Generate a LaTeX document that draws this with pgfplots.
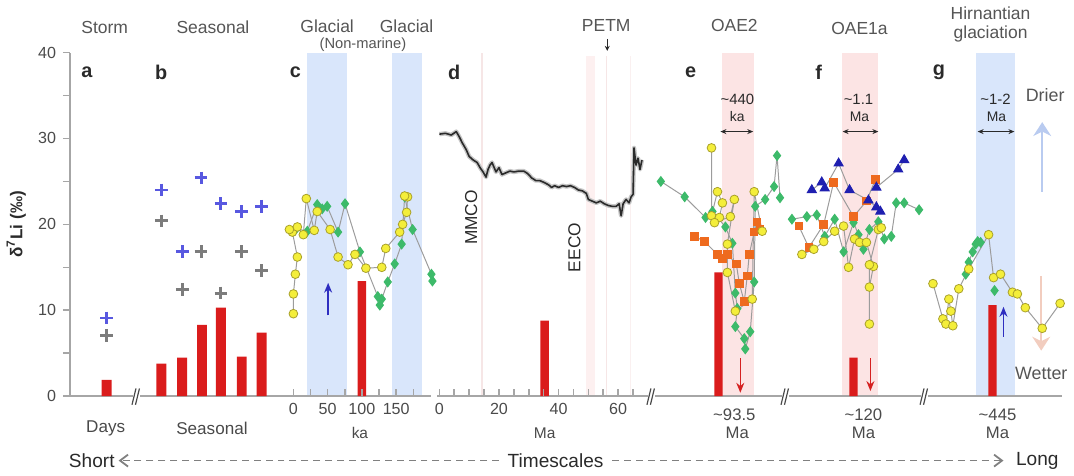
\documentclass[border=0pt]{standalone}
\usepackage{fontspec}
\setmainfont{Liberation Sans}
\usepackage{pgfplots}
\pgfplotsset{compat=1.18}
\usetikzlibrary{arrows.meta}
\definecolor{axgray}{HTML}{A6A6A6}
\definecolor{tickgray}{HTML}{4A4A4A}
\definecolor{ttlgray}{HTML}{555555}
\definecolor{dark}{HTML}{2A2A2A}
\definecolor{barred}{HTML}{DA1C1C}
\definecolor{crossblue}{HTML}{5858E0}
\definecolor{crossgray}{HTML}{7C7C7C}
\definecolor{bandblue}{HTML}{D9E6FB}
\definecolor{bandpink}{HTML}{FCE4E4}
\definecolor{pinkline}{HTML}{F6E6E6}
\definecolor{ylw}{HTML}{F4EE3A}
\definecolor{ylwedge}{HTML}{A9A12A}
\definecolor{grn}{HTML}{3DBA6A}
\definecolor{org}{HTML}{EE6A1E}
\definecolor{tri}{HTML}{1F1FB0}
\definecolor{lngray}{HTML}{9C9C9C}
\definecolor{drier}{HTML}{B9CBF0}
\definecolor{wetter}{HTML}{F2CDBF}
\definecolor{arrblue}{HTML}{2E2EC0}
\definecolor{arrred}{HTML}{D52020}
\newcommand{\fz}[1]{\fontsize{#1}{#1}\selectfont}
\pgfplotsset{
  ylwp/.style={color=lngray, line width=0.5pt, mark=*, mark size=2.2pt, mark options={fill=ylw, draw=ylwedge, line width=0.4pt, solid}},
  grnp/.style={color=lngray, line width=0.5pt, mark=diamond*, mark size=2.4pt, mark options={fill=grn, draw=grn}},
  orgp/.style={color=lngray, line width=0.5pt, mark=square*, mark size=1.9pt, mark options={fill=org, draw=org}},
  trip/.style={color=lngray, line width=0.5pt, mark=triangle*, mark size=2.6pt, mark options={fill=tri, draw=tri}},
}
\tikzset{brk/.style={tickgray, line width=0.6pt}}
\begin{document}
\begin{tikzpicture}
\begin{axis}[
  scale only axis, width=500pt, height=173pt,
  xmin=68, xmax=1068, ymin=0, ymax=40,
  axis x line=bottom, axis y line=left,
  axis on top,
  x axis line style={draw=none},
  y axis line style={draw=axgray, line width=0.9pt, -},
  ytick={0,10,20,30,40}, minor ytick={5,15,25,35},
  ytick align=outside, xtick align=inside,
  major tick length=3.5pt, minor tick length=3.5pt,
  tick style={draw=axgray, line width=0.8pt},
  xtick={293,327.5,362,396.5,440,500,560,620},
  xticklabels={0,50,100,150,0,20,40,60},
  minor xtick={310.25,344.75,379.25,413.75,455,470,485,515,530,545,575,590,605,635},
  tick label style={font=\fz{8.1}, text=tickgray},
  /pgf/number format/assume math mode=true,
  clip=false,
]
% bounding box
\path (axis cs:0,-9.133) rectangle (axis cs:1074,46.01);

% shaded bands
\addplot[fill=bandblue, draw=none] coordinates {(307,0) (307,39.9) (347,39.9) (347,0)} --cycle;
\addplot[fill=bandblue, draw=none] coordinates {(392,0) (392,39.9) (422,39.9) (422,0)} --cycle;
\addplot[fill=bandpink, draw=none] coordinates {(725,0) (725,39.9) (757,39.9) (757,0)} --cycle;
\addplot[fill=bandpink, draw=none] coordinates {(845,0) (845,39.9) (882,39.9) (882,0)} --cycle;
\addplot[fill=bandblue, draw=none] coordinates {(980,0) (980,39.9) (1020,39.9) (1020,0)} --cycle;
\addplot[fill=bandpink!55, draw=none] coordinates {(588,0) (588,39.6) (597,39.6) (597,0)} --cycle;
\addplot[pinkline, line width=0.6pt] coordinates {(483,0) (483,39.9)};
\addplot[pinkline, line width=0.6pt] coordinates {(608,0) (608,39.6)};
\addplot[pinkline!60, line width=0.5pt] coordinates {(632,0) (632,39.6)};

% baseline with breaks
\draw[axgray, line width=0.9pt] (axis cs:68,0) -- (axis cs:132,0);
\draw[axgray, line width=0.9pt] (axis cs:139,0) -- (axis cs:432,0);
\draw[axgray, line width=0.9pt] (axis cs:438,0) -- (axis cs:650,0);
\draw[axgray, line width=0.9pt] (axis cs:657,0) -- (axis cs:785,0);
\draw[axgray, line width=0.9pt] (axis cs:792,0) -- (axis cs:925,0);
\draw[axgray, line width=0.9pt] (axis cs:932,0) -- (axis cs:1067,0);
\draw[brk] (axis cs:130.5,-1.0) -- (axis cs:134.5,0.9);
\draw[brk] (axis cs:134,-1.0) -- (axis cs:138,0.9);
\draw[brk] (axis cs:649,-1.0) -- (axis cs:653,0.9);
\draw[brk] (axis cs:652.5,-1.0) -- (axis cs:656.5,0.9);
\draw[brk] (axis cs:784,-1.0) -- (axis cs:788,0.9);
\draw[brk] (axis cs:787.5,-1.0) -- (axis cs:791.5,0.9);
\draw[brk] (axis cs:924,-1.0) -- (axis cs:928,0.9);
\draw[brk] (axis cs:927.5,-1.0) -- (axis cs:931.5,0.9);

% red bars
\addplot[ybar, bar width=5pt, bar shift=0pt, fill=barred, draw=none] coordinates {
 (105,1.9) (160,3.8) (181,4.5) (201,8.3) (220,10.3) (241,4.6) (261,7.4)};
\addplot[ybar, bar width=4.2pt, bar shift=0pt, fill=barred, draw=none] coordinates {
 (362,13.4) (546,8.8) (721,14.4) (857,4.5) (997,10.6)};

% crosses a, b
\addplot[only marks, mark=+, mark size=3.2pt, mark options={line width=1.5pt}, color=crossblue] coordinates {
 (105,9.1) (160,24.0) (181,16.8) (200,25.4) (220,22.4) (241,21.5) (261,22.1)};
\addplot[only marks, mark=+, mark size=3.2pt, mark options={line width=1.5pt}, color=crossgray] coordinates {
 (105,7.1) (160,20.4) (181,12.4) (200,16.8) (220,12.0) (241,16.8) (261,14.6)};

% panel c
\addplot[grnp] coordinates {
 (296,19.5) (307,19.2) (317,22.3) (322,21.8) (327,22.1) (338,19.1) (345,22.4) (360,16.8)
 (378,11.6) (380,10.6) (382,11.3) (388,13.3) (395,15.4) (402,17.7) (405,23.2) (413,19.4) (432,14.2) (433,13.4)};
\addplot[ylwp] coordinates {
 (293,9.6) (293,11.9) (295,14.2) (297,16.2) (292,19.1) (289,19.4) (297,19.7) (303,18.8) (306,23.0) (314,19.3)
 (317,21.5) (330,19.4) (338,16.2) (348,15.3) (355,16.5) (366,14.9) (382,15.0) (386,17.2)
 (400,19.1) (403,20.0) (407,21.4) (408,23.2) (405,23.3)};
\addplot[-{Stealth[length=5pt,width=4pt]}, arrblue, line width=0.7pt] coordinates {(328,9.4) (328,13.2)};

% panel d
\addplot[color=gray!45, line width=2.2pt, line join=round] coordinates {
 (440,30.5) (446,30.6) (452,30.4) (457,30.8) (460,30.2) (463,29.5) (467,28.7) (470,27.9) (474,27.5)
 (478,27.2) (481,26.6) (484,26.1) (487,25.5) (489,26.4) (491,26.9) (493,27.2) (497,26.1) (500,26.6)
 (503,25.8) (507,26.0) (511,26.2) (515,26.1) (520,26.2) (525,26.2) (529,25.9) (533,25.4) (537,25.1)
 (541,25.1) (545,24.9) (550,24.6) (553,24.3) (556,24.5) (560,24.3) (564,24.5) (568,24.4) (572,24.5)
 (576,24.3) (580,24.0) (584,23.9) (588,23.6) (590,22.9) (594,22.7) (598,22.5) (602,22.7) (606,22.4)
 (610,22.2) (614,22.1) (618,22.1) (621,22.4) (623,21.0) (625,22.4) (628,22.9) (631,22.5) (633,23.2)
 (635,23.5) (636,28.9) (638,26.9) (640,27.7) (642,26.4) (644,27.5)};
\addplot[color=dark, line width=0.8pt, line join=round] coordinates {
 (440,30.5) (446,30.6) (452,30.4) (457,30.8) (460,30.2) (463,29.5) (467,28.7) (470,27.9) (474,27.5)
 (478,27.2) (481,26.6) (484,26.1) (487,25.5) (489,26.4) (491,26.9) (493,27.2) (497,26.1) (500,26.6)
 (503,25.8) (507,26.0) (511,26.2) (515,26.1) (520,26.2) (525,26.2) (529,25.9) (533,25.4) (537,25.1)
 (541,25.1) (545,24.9) (550,24.6) (553,24.3) (556,24.5) (560,24.3) (564,24.5) (568,24.4) (572,24.5)
 (576,24.3) (580,24.0) (584,23.9) (588,23.6) (590,22.9) (594,22.7) (598,22.5) (602,22.7) (606,22.4)
 (610,22.2) (614,22.1) (618,22.1) (621,22.4) (623,21.0) (625,22.4) (628,22.9) (631,22.5) (633,23.2)
 (635,23.5) (636,28.9) (638,26.9) (640,27.7) (642,26.4) (644,27.5)};

% panel e
\addplot[grnp] coordinates {
 (663,25.0) (687,23.2) (708,20.8) (715,21.5) (728,19.7) (735,17.8) (738,12.0) (740,10.2) (738,8.1)
 (747,6.7) (748,5.5) (753,7.5) (757,13.3) (758,22.1) (768,22.9) (777,24.4) (780,28.0) (783,23.1)};
\addplot[orgp] coordinates {
 (697,18.6) (707,18.0) (720,16.5) (725,16.0) (730,16.5) (739,15.4) (742,13.1) (747,11.0) (750,14.0)
 (752,16.5) (757,19.1) (760,20.3) (763,19.4)};
\addplot[ylwp] coordinates {
 (714,28.9) (714,21.0) (720,23.8) (725,22.5) (722,20.8) (717,20.2) (733,20.9) (737,22.9) (730,17.7)
 (730,14.4) (738,9.9) (755,11.3) (757,23.8) (765,19.2)};
\addplot[-{Stealth[length=5pt,width=4pt]}, arrred, line width=0.7pt] coordinates {(743,4.4) (743,0.4)};

% panel f
\addplot[grnp] coordinates {
 (795,20.6) (810,20.9) (820,21.1) (828,18.6) (838,20.6) (847,16.8) (857,20.2) (862,18.8) (867,17.1)
 (873,19.4) (882,20.3) (888,18.3) (895,18.6) (900,22.5) (908,22.5) (923,21.7)};
\addplot[orgp] coordinates {
 (802,19.8) (812,17.3) (827,20.0) (837,24.9) (857,20.9) (870,22.7) (879,25.2)};
\addplot[trip] coordinates {
 (815,24.0) (825,24.9) (828,24.2) (842,27.1) (853,24.0) (872,22.8) (880,22.0) (884,21.5)};
\addplot[trip] coordinates {(880,24.3) (902,26.4) (908,27.5)};
\addplot[ylwp] coordinates {
 (805,16.5) (817,17.1) (827,18.0) (838,19.2) (847,19.8) (852,15.0) (858,18.3) (863,17.9) (870,17.9)
 (877,15.1) (873,12.7) (873,8.4) (873,15.3) (882,19.4) (885,19.6)};
\addplot[-{Stealth[length=5pt,width=4pt]}, arrred, line width=0.7pt] coordinates {(874,4.4) (874,0.6)};

% panel g
\addplot[grnp] coordinates {
 (970,14.2) (973,15.6) (977,16.8) (980,17.7) (982,18.0) (985,17.9)};
\addplot[grnp] coordinates {(999,12.3)};
\addplot[ylwp] coordinates {
 (937,13.1) (947,9.0) (950,8.4) (953,11.3) (955,9.9) (957,8.2) (963,12.5) (973,14.8) (993,18.8)
 (998,13.8) (1005,14.2) (1017,12.1) (1022,11.9) (1030,10.3) (1047,7.9) (1065,10.8)};
\addplot[-{Stealth[length=5pt,width=4pt]}, arrblue, line width=0.7pt] coordinates {(1008,6.9) (1008,10.4)};

% drier / wetter arrows
\addplot[-{Stealth[length=7pt,width=9pt]}, drier, line width=1pt] coordinates {(1047,23.8) (1047,31.9)};
\addplot[-{Stealth[length=7pt,width=9pt]}, wetter, line width=1pt] coordinates {(1046,14.0) (1046,5.3)};

% duration arrows
\draw[{Stealth[length=3pt,width=2.5pt]}-{Stealth[length=3pt,width=2.5pt]}, dark, line width=0.5pt] (axis cs:723,30.8) -- (axis cs:756,30.8);
\draw[{Stealth[length=3pt,width=2.5pt]}-{Stealth[length=3pt,width=2.5pt]}, dark, line width=0.5pt] (axis cs:846,30.8) -- (axis cs:882,30.8);
\draw[{Stealth[length=3pt,width=2.5pt]}-{Stealth[length=3pt,width=2.5pt]}, dark, line width=0.5pt] (axis cs:982,30.8) -- (axis cs:1019,30.8);
\node[font=\fz{7.5}, text=dark] at (axis cs:740,34.5) {\textasciitilde440};
\node[font=\fz{7}, text=dark] at (axis cs:740,32.5) {ka};
\node[font=\fz{7.5}, text=dark] at (axis cs:862,34.5) {\textasciitilde1.1};
\node[font=\fz{7}, text=dark] at (axis cs:863,32.5) {Ma};
\node[font=\fz{7.5}, text=dark] at (axis cs:1000,34.5) {\textasciitilde1-2};
\node[font=\fz{7}, text=dark] at (axis cs:1001,32.5) {Ma};

% PETM arrow
\draw[-{Stealth[length=2.5pt,width=2.5pt]}, dark, line width=0.5pt] (axis cs:609,41.6) -- (axis cs:609,40.2);

% panel letters
\node[font=\fz{10}\bfseries, text=dark] at (axis cs:85,37.7) {a};
\node[font=\fz{10}\bfseries, text=dark] at (axis cs:160,37.7) {b};
\node[font=\fz{10}\bfseries, text=dark] at (axis cs:295,37.7) {c};
\node[font=\fz{10}\bfseries, text=dark] at (axis cs:455,37.7) {d};
\node[font=\fz{10}\bfseries, text=dark] at (axis cs:693,37.7) {e};
\node[font=\fz{10}\bfseries, text=dark] at (axis cs:822,37.7) {f};
\node[font=\fz{10}\bfseries, text=dark] at (axis cs:943,37.7) {g};

% titles
\node[font=\fz{8.8}, text=ttlgray] at (axis cs:103,42.9) {Storm};
\node[font=\fz{8.8}, text=ttlgray] at (axis cs:212,42.9) {Seasonal};
\node[font=\fz{8.8}, text=ttlgray] at (axis cs:327,43.1) {Glacial};
\node[font=\fz{8.8}, text=ttlgray] at (axis cs:407,43.1) {Glacial};
\node[font=\fz{7.4}, text=ttlgray] at (axis cs:363,40.9) {(Non-marine)};
\node[font=\fz{8.8}, text=ttlgray] at (axis cs:608,43.1) {PETM};
\node[font=\fz{8.8}, text=ttlgray] at (axis cs:737,43.1) {OAE2};
\node[font=\fz{8.8}, text=ttlgray] at (axis cs:863,42.8) {OAE1a};
\node[font=\fz{8.8}, text=ttlgray] at (axis cs:995,44.6) {Hirnantian};
\node[font=\fz{8.8}, text=ttlgray] at (axis cs:995,42.2) {glaciation};

% rotated event labels
\node[font=\fz{8.7}, text=dark, rotate=90] at (axis cs:472,20.8) {MMCO};
\node[font=\fz{8.7}, text=dark, rotate=90] at (axis cs:576,17.3) {EECO};

% drier / wetter
\node[font=\fz{9}, text=ttlgray] at (axis cs:1050,35.0) {Drier};
\node[font=\fz{9}, text=ttlgray] at (axis cs:1046,2.7) {Wetter};

% y label
\node[font=\fz{8.6}\bfseries, text=dark, rotate=90] at (axis cs:14,20.0) {δ\textsuperscript{7}Li (‰)};

% x unit labels
\node[font=\fz{8.6}, text=tickgray] at (axis cs:104,-3.7) {Days};
\node[font=\fz{8.6}, text=tickgray] at (axis cs:211,-3.7) {Seasonal};
\node[font=\fz{7.8}, text=tickgray] at (axis cs:360,-4.3) {ka};
\node[font=\fz{7.8}, text=tickgray] at (axis cs:546,-4.3) {Ma};
\node[font=\fz{8.4}, text=tickgray] at (axis cs:737,-2.2) {\textasciitilde93.5};
\node[font=\fz{8.4}, text=tickgray] at (axis cs:740,-4.3) {Ma};
\node[font=\fz{8.4}, text=tickgray] at (axis cs:867,-2.2) {\textasciitilde120};
\node[font=\fz{8.4}, text=tickgray] at (axis cs:867,-4.3) {Ma};
\node[font=\fz{8.4}, text=tickgray] at (axis cs:1002,-2.2) {\textasciitilde445};
\node[font=\fz{8.4}, text=tickgray] at (axis cs:1002,-4.3) {Ma};

% timescale arrow
\draw[-{Straight Barb[length=4pt,width=6pt]}, gray, line width=0.9pt, dash pattern=on 3.5pt off 2.5pt] (axis cs:500,-7.5) -- (axis cs:117,-7.5);
\draw[-{Straight Barb[length=4pt,width=6pt]}, gray, line width=0.9pt, dash pattern=on 3.5pt off 2.5pt] (axis cs:614,-7.5) -- (axis cs:1008,-7.5);
\node[font=\fz{9.6}, text=dark] at (axis cs:90,-7.5) {Short};
\node[font=\fz{9.6}, text=dark] at (axis cs:557,-7.5) {Timescales};
\node[font=\fz{9.6}, text=dark] at (axis cs:1042,-7.5) {Long};
\end{axis}
\end{tikzpicture}
\end{document}
